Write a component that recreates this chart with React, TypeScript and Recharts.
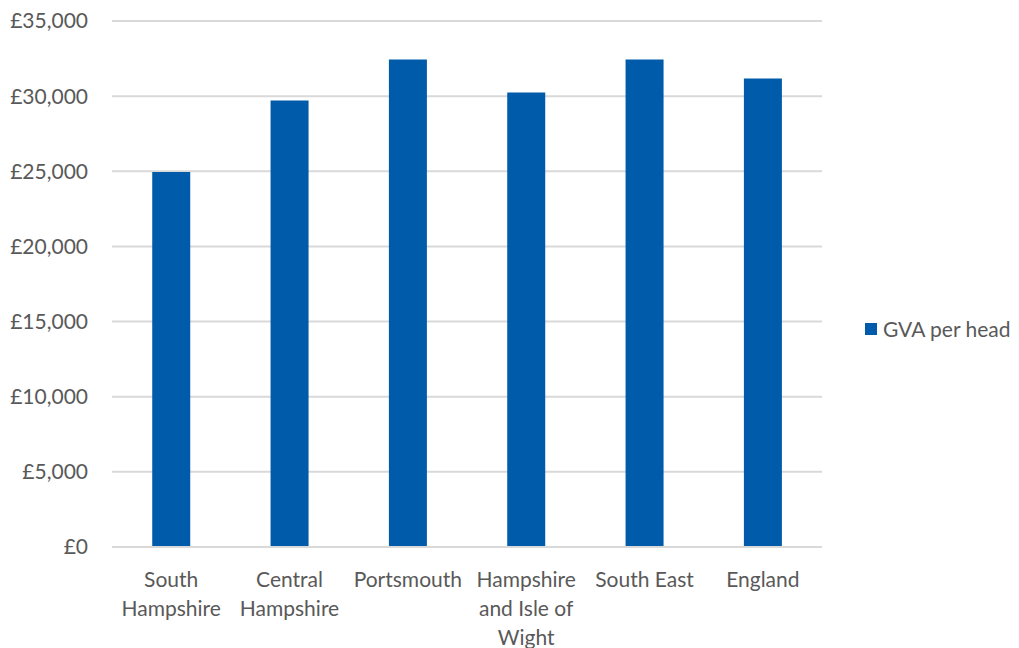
import React from 'react';
import { BarChart, Bar, XAxis, YAxis, CartesianGrid, Legend } from 'recharts';

const categories = [
  'South Hampshire',
  'Central Hampshire',
  'Portsmouth',
  'Hampshire and Isle of Wight',
  'South East',
  'England',
];

// how each category label wraps under the axis
const categoryLines: string[][] = [
  ['South', 'Hampshire'],
  ['Central', 'Hampshire'],
  ['Portsmouth'],
  ['Hampshire', 'and Isle of', 'Wight'],
  ['South East'],
  ['England'],
];

const gvaPerHead = [24950, 29710, 32440, 30240, 32440, 31180];

const yTicks = [0, 5000, 10000, 15000, 20000, 25000, 30000, 35000];

const seriesName = 'GVA per head';

const data = categories.map((name, i) => ({
  name,
  value: gvaPerHead[i],
}));

const FONT = 'Lato, "Open Sans", sans-serif';
const FONT_SIZE = 21;
const TEXT_COLOR = '#595959';
const BAR_COLOR = '#005BAB';
const GRID_COLOR = '#D9D9D9';

const formatPounds = (v: number) => '£' + v.toLocaleString('en-GB');

const CategoryTick = (props: any) => {
  const { x, y, payload } = props;
  const idx = categories.indexOf(payload.value);
  const lines = idx >= 0 ? categoryLines[idx] : [payload.value];
  return (
    <g transform={`translate(${x},${y})`}>
      <text
        textAnchor="middle"
        fill={TEXT_COLOR}
        fontSize={FONT_SIZE}
        fontFamily={FONT}
      >
        {lines.map((line, i) => (
          <tspan key={i} x={0} y={32 + i * 29}>
            {line}
          </tspan>
        ))}
      </text>
    </g>
  );
};

const LegendContent = () => (
  <div
    style={{
      display: 'flex',
      alignItems: 'center',
      fontFamily: FONT,
      fontSize: FONT_SIZE,
      color: TEXT_COLOR,
      lineHeight: '26px',
      whiteSpace: 'nowrap',
    }}
  >
    <span
      style={{
        display: 'inline-block',
        width: 12,
        height: 12,
        background: BAR_COLOR,
        marginRight: 6,
      }}
    />
    {seriesName}
  </div>
);

export default function App() {
  return (
    <div style={{ position: 'absolute', left: 0, top: 0, background: '#fff' }}>
      <BarChart
        width={1019}
        height={648}
        data={data}
        margin={{ top: 21, right: 197, left: 0, bottom: 0 }}
        barCategoryGap="34%"
      >
        <CartesianGrid vertical={false} stroke={GRID_COLOR} strokeWidth={2} />
        <XAxis
          dataKey="name"
          interval={0}
          height={101}
          tickLine={false}
          axisLine={{ stroke: GRID_COLOR, strokeWidth: 2 }}
          tick={<CategoryTick />}
        />
        <YAxis
          width={112}
          domain={[0, 35000]}
          ticks={yTicks}
          tickFormatter={formatPounds}
          axisLine={false}
          tickLine={false}
          tickSize={0}
          tickMargin={24}
          tick={{ fill: TEXT_COLOR, fontSize: FONT_SIZE, fontFamily: FONT }}
        />
        <Legend
          layout="horizontal"
          verticalAlign="middle"
          align="center"
          content={<LegendContent />}
          wrapperStyle={{ left: 865, top: 316, width: 154 }}
        />
        <Bar
          dataKey="value"
          name={seriesName}
          fill={BAR_COLOR}
          isAnimationActive={false}
        />
      </BarChart>
    </div>
  );
}
